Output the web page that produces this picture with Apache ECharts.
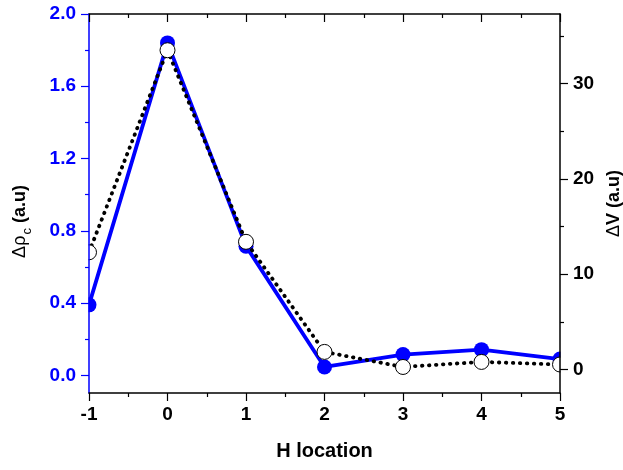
<!DOCTYPE html>
<html><head><meta charset="utf-8">
<script src="https://cdn.jsdelivr.net/npm/echarts@6/dist/echarts.min.js"></script>
<style>html,body{margin:0;padding:0;background:#fff}#c{width:623px;height:470px}</style>
</head><body><div id="c"></div>
<script>
const xValues = [-1, 0, 1, 2, 3, 4, 5];
const rhoValues = [0.39, 1.84, 0.715, 0.046, 0.115, 0.142, 0.09];
const vValues = [12.3, 33.5, 13.4, 1.85, 0.27, 0.8, 0.53];
const leftTicks = [0, 0.4, 0.8, 1.2, 1.6, 2.0];
const leftMinor = [0.2, 0.6, 1.0, 1.4, 1.8];
const rightTicks = [0, 10, 20, 30];
const rightMinor = [5, 15, 25, 35];

const BLUE = '#0000ff';
const FONT = 'Liberation Sans, Arial, sans-serif';
const G = {left: 89, right: 63, top: 14, bottom: 77};
const L = {min: -0.098, max: 2.0};
const R = {min: -2.46, max: 37.3};

const chart = echarts.init(document.getElementById('c'), null, {renderer: 'canvas'});
chart.setOption({
  backgroundColor: '#fff',
  animation: false,
  grid: {left: G.left, right: G.right, top: G.top, bottom: G.bottom, containLabel: false, outerBoundsMode: 'none'},
  graphic: [
    {type: 'rect', z: 5, silent: true, shape: {x: 0, y: 0, width: G.left - 0.5, height: 470}, style: {fill: '#fff'}},
    {type: 'rect', z: 5, silent: true, shape: {x: 623 - G.right + 0.5, y: 0, width: G.right, height: 470}, style: {fill: '#fff'}}
  ],
  xAxis: [
    {
      type: 'value', position: 'bottom', min: -1, max: 5, interval: 1, z: 10,
      name: 'H location', nameLocation: 'middle', nameGap: 48,
      nameTextStyle: {fontFamily: FONT, fontWeight: 'bold', fontSize: 20, color: '#000'},
      axisLine: {show: true, onZero: false, lineStyle: {color: '#000', width: 1.5}},
      axisTick: {show: true, inside: false, length: 8, lineStyle: {color: '#000', width: 1.2}},
      minorTick: {show: true, splitNumber: 2, length: 4, lineStyle: {color: '#000', width: 1.2}},
      axisLabel: {margin: 12, fontFamily: FONT, fontWeight: 'bold', fontSize: 19, color: '#000'},
      splitLine: {show: false}, minorSplitLine: {show: false}
    },
    {
      type: 'value', position: 'top', min: -1, max: 5, interval: 1, z: 10,
      axisLine: {show: true, onZero: false, lineStyle: {color: '#000', width: 1.5}},
      axisTick: {show: true, inside: true, length: 8, lineStyle: {color: '#000', width: 1.2}},
      minorTick: {show: true, splitNumber: 2, length: 4, lineStyle: {color: '#000', width: 1.2}},
      axisLabel: {show: false}, splitLine: {show: false}
    }
  ],
  yAxis: [
    {
      type: 'value', position: 'left', min: L.min, max: L.max, z: 10,
      name: '{d|Δρ}{s|c}{b| (a.u)}', nameLocation: 'middle', nameGap: 60, nameRotate: 90,
      nameTextStyle: {padding: [0, 36, 0, 0], rich: {
        d: {fontFamily: FONT, fontSize: 18, color: '#000', lineHeight: 22, verticalAlign: 'bottom'},
        s: {fontFamily: FONT, fontSize: 13, color: '#000', lineHeight: 22, verticalAlign: 'bottom', padding: [0, 0, -5, 1]},
        b: {fontFamily: FONT, fontSize: 18, fontWeight: 'bold', color: '#000', lineHeight: 22, verticalAlign: 'bottom'}
      }},
      axisLine: {show: true, onZero: false, lineStyle: {color: BLUE, width: 1.5}},
      axisTick: {show: true, inside: false, length: 8, customValues: leftTicks, lineStyle: {color: BLUE, width: 1.2}},
      axisLabel: {customValues: leftTicks, margin: 13, formatter: v => v.toFixed(1), fontFamily: FONT, fontWeight: 'bold', fontSize: 19, color: BLUE},
      splitLine: {show: false}
    },
    {
      type: 'value', position: 'right', min: R.min, max: R.max, z: 10,
      name: '{d|Δ}{b|V (a.u)}', nameLocation: 'middle', nameGap: 40, nameRotate: 90,
      nameTextStyle: {rich: {
        d: {fontFamily: FONT, fontSize: 18, color: '#000', lineHeight: 20},
        b: {fontFamily: FONT, fontSize: 18, fontWeight: 'bold', color: '#000', lineHeight: 20}
      }},
      axisLine: {show: true, onZero: false, lineStyle: {color: '#000', width: 1.5}},
      axisTick: {show: true, inside: false, length: 8, customValues: rightTicks, lineStyle: {color: '#000', width: 1.2}},
      axisLabel: {customValues: rightTicks, margin: 13, fontFamily: FONT, fontWeight: 'bold', fontSize: 19, color: '#000'},
      splitLine: {show: false}
    },
    {
      type: 'value', position: 'left', min: L.min, max: L.max, z: 10,
      axisLine: {show: false, onZero: false},
      axisTick: {show: true, inside: false, length: 4, customValues: leftMinor, lineStyle: {color: BLUE, width: 1.2}},
      axisLabel: {show: false}, splitLine: {show: false}
    },
    {
      type: 'value', position: 'right', min: R.min, max: R.max, z: 10,
      axisLine: {show: false, onZero: false},
      axisTick: {show: true, inside: false, length: 4, customValues: rightMinor, lineStyle: {color: '#000', width: 1.2}},
      axisLabel: {show: false}, splitLine: {show: false}
    }
  ],
  series: [
    {
      type: 'line', xAxisIndex: 0, yAxisIndex: 0, z: 2,
      data: xValues.map((x, i) => [x, rhoValues[i]]),
      symbol: 'circle', symbolSize: 15, clip: false,
      itemStyle: {color: BLUE, borderWidth: 0},
      lineStyle: {color: BLUE, width: 3.8}
    },
    {
      type: 'line', xAxisIndex: 0, yAxisIndex: 1, z: 3,
      data: xValues.map((x, i) => [x, vValues[i]]),
      symbol: 'circle', symbolSize: 15, clip: false,
      itemStyle: {color: '#fff', borderColor: '#000', borderWidth: 1},
      lineStyle: {color: '#000', width: 3.8, type: [0.5, 6.5], cap: 'round'}
    }
  ]
});
</script></body></html>
